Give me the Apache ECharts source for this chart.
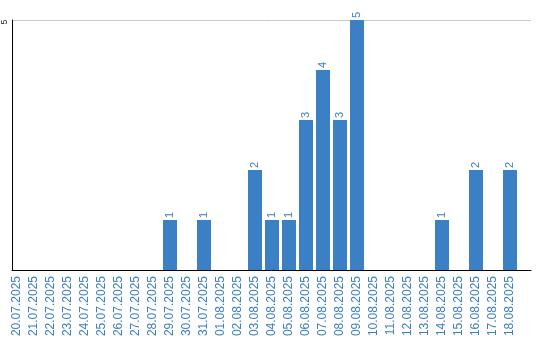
<!DOCTYPE html>
<html><head><meta charset="utf-8">
<script src="https://cdn.jsdelivr.net/npm/echarts@6/dist/echarts.min.js"></script>
<style>html,body{margin:0;padding:0;background:#fff}#c{width:540px;height:340px}</style>
</head><body><div id="c"></div>
<script>
const categories = ["20.07.2025","21.07.2025","22.07.2025","23.07.2025","24.07.2025","25.07.2025","26.07.2025","27.07.2025","28.07.2025","29.07.2025","30.07.2025","31.07.2025","01.08.2025","02.08.2025","03.08.2025","04.08.2025","05.08.2025","06.08.2025","07.08.2025","08.08.2025","09.08.2025","10.08.2025","11.08.2025","12.08.2025","13.08.2025","14.08.2025","15.08.2025","16.08.2025","17.08.2025","18.08.2025"];
const values = [0,0,0,0,0,0,0,0,0,1,0,1,0,0,2,1,1,3,4,3,5,0,0,0,0,1,0,2,0,2];
const yMax = 5;

const chart = echarts.init(document.getElementById('c'), null, {renderer:'canvas'});
chart.setOption({
  animation:false,
  textStyle:{fontFamily:'Liberation Sans, Arial, sans-serif'},
  grid:[
    {left:11, right:9, top:20, bottom:70},
    {left:8.5, width:510, top:20, bottom:70}
  ],
  xAxis:[
    {gridIndex:0, type:'category', data:categories, axisLine:{lineStyle:{color:'#000',width:1}}, axisTick:{show:false}, axisLabel:{show:false}},
    {gridIndex:1, type:'category', data:categories, axisLine:{show:false}, axisTick:{show:false},
     axisLabel:{rotate:90, interval:0, color:'#3b7fc4', fontSize:12, margin:6, fontFamily:'Liberation Sans'}}
  ],
  yAxis:[
    {gridIndex:0, type:'value', min:0, max:yMax, interval:5,
     axisLine:{show:true, lineStyle:{color:'#000',width:1}}, axisTick:{show:false},
     splitLine:{show:true, lineStyle:{color:'#c8c8c8',width:1}},
     axisLabel:{rotate:90, margin:3, fontSize:9, color:'#222', align:'center', verticalAlign:'bottom', padding:[0,4,0,0],
       formatter:v=>v===0?'':String(v)}},
    {gridIndex:1, type:'value', min:0, max:yMax, show:false, splitLine:{show:false}}
  ],
  series:[{
    type:'bar', xAxisIndex:1, yAxisIndex:1, data:values, barWidth:14,
    itemStyle:{color:'#3b7fc4'},
    label:{show:true, position:'top', rotate:90, align:'left', verticalAlign:'middle', distance:2,
      color:'#3b7fc4', fontSize:11, formatter:p=>p.value?String(p.value):''}
  }]
});
</script></body></html>
